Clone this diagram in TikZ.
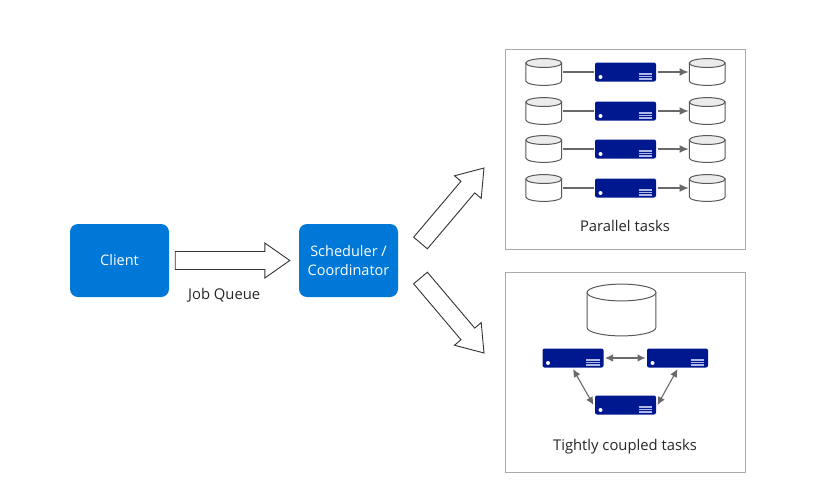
\documentclass[tikz,border=0pt]{standalone}
\usepackage{fontspec}
\setmainfont{Open Sans}
\usepackage{xcolor}
\usetikzlibrary{arrows.meta,positioning,calc}
\definecolor{tileblue}{RGB}{0,120,215}
\definecolor{servernavy}{RGB}{0,24,143}
\definecolor{serverline}{RGB}{176,184,232}
\definecolor{panelgray}{RGB}{170,170,170}
\definecolor{linkgray}{RGB}{105,105,105}
\tikzset{
dbtint/.store in=\dbtint,dbtint=black!8,
tile/.style={fill=tileblue,rounded corners=8pt,minimum width=99pt,minimum height=73pt,align=center,text=white,inner sep=0pt,font=\fontsize{14.5}{19}\selectfont},
panel/.style={draw=panelgray,line width=1pt,minimum width=240pt,minimum height=200pt,inner sep=0pt},
tasktext/.style={font=\fontsize{14.8}{17}\selectfont,text=black!85,inner sep=0pt},
dbase/.style={fill=white,inner sep=0pt,minimum width=37pt,minimum height=28pt,
  path picture={
    \coordinate(dbmid) at (path picture bounding box.center);
    \path let \p1=($(path picture bounding box.north east)-(path picture bounding box.south west)$),
      \n1={0.5*\x1-0.6pt},\n2={0.12*\x1},\n3={0.5*\y1-0.6pt-0.12*\x1} in
      [draw=black!65,line width=1pt,fill=white]
      ($(dbmid)+(-\n1,\n3)$) -- ($(dbmid)+(-\n1,-\n3)$)
      arc[start angle=180,end angle=360,x radius=\n1,y radius=\n2]
      -- ($(dbmid)+(\n1,\n3)$) -- cycle;
    \path let \p1=($(path picture bounding box.north east)-(path picture bounding box.south west)$),
      \n1={0.5*\x1-0.6pt},\n2={0.12*\x1},\n3={0.5*\y1-0.6pt-0.12*\x1} in
      [draw=black!65,line width=1pt,fill=\dbtint]
      ($(dbmid)+(0pt,\n3)$) ellipse[x radius=\n1,y radius=\n2];
  }},
server/.style={fill=servernavy,rounded corners=2pt,minimum width=61pt,minimum height=19pt,inner sep=0pt,outer sep=1.5pt,
  path picture={
    \fill[white] ($(path picture bounding box.south west)+(5.5,-4.5)$) circle (2pt);
    \foreach \k in {2.5,5,7.5}
      \draw[serverline,line width=1.3pt] ($(path picture bounding box.south east)+(-17.5,-\k)$) -- ++(13.5,0);
  }},
link/.style={draw=linkgray,line width=1.1pt},
tip/.style={link,-{Latex[length=9pt,width=8pt]}},
tiptwo/.style={link,{Latex[length=8pt,width=7.5pt]}-{Latex[length=8pt,width=7.5pt]}},
blockarrow/.style={draw=black!80,fill=white,line width=0.9pt,to path={
  let \p1=($(\tikztotarget)!25pt!(\tikztostart)$) in
  ($(\tikztostart)!9pt!90:(\tikztotarget)$) -- ($(\p1)!9pt!90:(\tikztotarget)$) -- ($(\p1)!17.5pt!90:(\tikztotarget)$) -- (\tikztotarget)
  -- ($(\p1)!17.5pt!-90:(\tikztotarget)$) -- ($(\p1)!9pt!-90:(\tikztotarget)$) -- ($(\tikztostart)!9pt!-90:(\tikztotarget)$) -- cycle}}
}
\begin{document}
\begin{tikzpicture}[x=1pt,y=-1pt]
\useasboundingbox (0,0) rectangle (832,480);
\node[tile](client) at (119.5,260.5){Client};
\node[tile](sched) at (348.5,260.5){Scheduler /\\Coordinator};
\node[panel](parallel) at (625,149){};
\node[panel](coupled) at (625,372){};
\coordinate[right=6pt of client.east](jobtail);
\coordinate[left=9pt of sched.west](jobtip);
\coordinate(uptail) at (420.5,243);
\coordinate(uptip) at (484,168);
\coordinate(downtail) at (420.5,278);
\coordinate(downtip) at (484,353);
\draw[blockarrow](jobtail) to (jobtip);
\draw[blockarrow](uptail) to (uptip);
\draw[blockarrow](downtail) to (downtip);
\node[tasktext,below=35pt of jobtail,xshift=49pt,anchor=center](job){Job Queue};
\foreach \r/\y in {a/72,b/111,c/149,d/188}{
\node[server](srv\r) at (625.5,\y){};
\node[dbase,left=31pt of srv\r](in\r){};
\node[dbase,right=31pt of srv\r](out\r){};
\draw[link](in\r)--(srv\r); \draw[tip](srv\r)--(out\r);
}
\node[tasktext,above=18pt of parallel.south](partext){Parallel tasks};
\node[dbase,dbtint=white,minimum width=70pt,minimum height=53pt](bigdb) at (621.5,310){};
\node[server](srvl) at (573,358){};
\node[server](srvr) at (677.5,358){};
\node[server](srvb) at (625.5,405){};
\draw[tiptwo](srvl)--(srvr); \draw[tiptwo](srvl.south)--(srvb.west); \draw[tiptwo](srvr.south)--(srvb.east);
\node[tasktext,above=18pt of coupled.south](coutext){Tightly coupled tasks};
\end{tikzpicture}
\end{document}
